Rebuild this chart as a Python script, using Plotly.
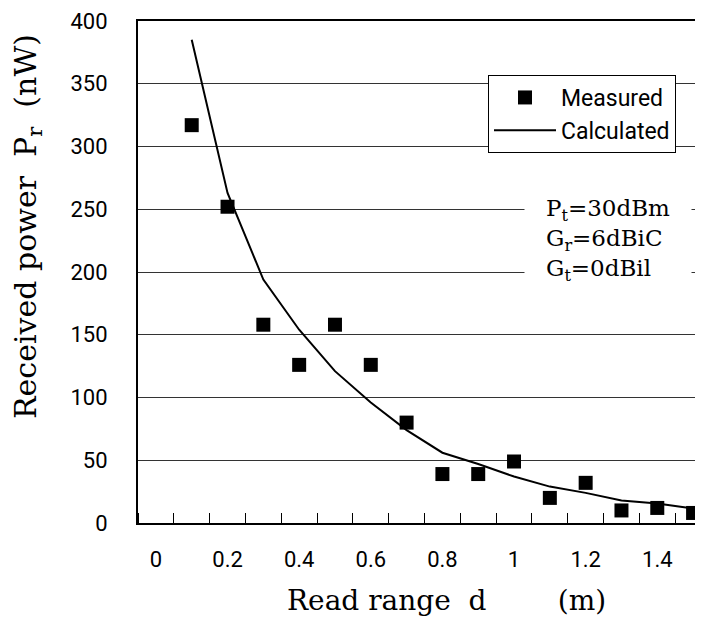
import plotly.graph_objects as go

# Data
distance_m = [0.1, 0.2, 0.3, 0.4, 0.5, 0.6, 0.7, 0.8, 0.9, 1.0, 1.1, 1.2, 1.3, 1.4, 1.5]
measured_nw = [317, 252, 158, 126, 158, 126, 80, 39, 39, 49, 20, 32, 10, 12, 8]
calculated_nw = [385, 263, 194, 154, 121, 96, 74, 56, 47, 37, 29, 24, 18, 15.5, 11.5]

x_tick_vals = [0, 0.2, 0.4, 0.6, 0.8, 1.0, 1.2, 1.4]
x_tick_text = ["0", "0.2", "0.4", "0.6", "0.8", "1", "1.2", "1.4"]
y_tick_vals = [0, 50, 100, 150, 200, 250, 300, 350, 400]

SANS = "Roboto, 'Liberation Sans Narrow', sans-serif"
SERIF = "'DejaVu Serif', serif"

# page body has an 8px margin; plot area spans screen x 138..711, y 21..523
PW = 573.0
PH = 502.0
def px(sx):
    return (sx - 138) / PW
def py(sy):
    return (523 - sy) / PH

fig = go.Figure()
fig.add_trace(go.Scatter(
    x=distance_m, y=calculated_nw, mode="lines", name="Calculated",
    line=dict(color="black", width=2), legendrank=2, cliponaxis=False,
))
fig.add_trace(go.Scatter(
    x=distance_m, y=measured_nw, mode="markers", name="Measured",
    marker=dict(symbol="square", size=14, color="black", line=dict(width=0)),
    legendrank=1, cliponaxis=False,
))

fig.update_layout(
    width=703, height=621,
    margin=dict(l=130, r=0, t=13, b=106, pad=0),
    paper_bgcolor="white", plot_bgcolor="white",
    showlegend=True,
    legend=dict(
        x=px(488), y=py(75), xanchor="left", yanchor="top",
        bgcolor="white", bordercolor="black", borderwidth=1,
        font=dict(family=SANS, size=23, color="black"),
        itemwidth=62, tracegroupgap=0,
    ),
    xaxis=dict(
        range=[-0.05, 1.55], tickvals=x_tick_vals, ticktext=x_tick_text,
        ticks="", showgrid=False, zeroline=False, automargin=False,
        showline=True, linecolor="black", linewidth=2, mirror=True,
        tickfont=dict(family=SANS, size=22, color="black"),
        ticklabelstandoff=16,
        minor=dict(tick0=0.05, dtick=0.1, ticks="inside", ticklen=10,
                   tickcolor="black", tickwidth=1, showgrid=False),
    ),
    yaxis=dict(
        range=[0, 400], tickvals=y_tick_vals, ticks="",
        showgrid=True, gridcolor="#333333", gridwidth=1, zeroline=False,
        automargin=False,
        showline=True, linecolor="black", linewidth=2, mirror=False,
        tickfont=dict(family=SANS, size=22, color="black"),
        ticklabelstandoff=24,
    ),
    annotations=[
        dict(text="Received power  P<sub>r</sub>  (nW)", textangle=-90,
             xref="paper", yref="paper", x=px(28), y=py(227),
             xanchor="center", yanchor="middle", showarrow=False,
             font=dict(family=SERIF, size=30, color="black")),
        dict(text="Read range  d        (m)",
             xref="paper", yref="paper", x=px(446), y=py(600),
             xanchor="center", yanchor="middle", showarrow=False,
             font=dict(family=SERIF, size=28, color="black")),
        dict(text="P<sub>t</sub>=30dBm<br>G<sub>r</sub>=6dBiC<br>G<sub>t</sub>=0dBil",
             align="left", xref="paper", yref="paper",
             x=px(608), y=py(240),
             xanchor="center", yanchor="middle", showarrow=False,
             bgcolor="white", borderpad=21,
             font=dict(family=SERIF, size=23, color="black")),
    ],
)

fig.write_html("out.html")
